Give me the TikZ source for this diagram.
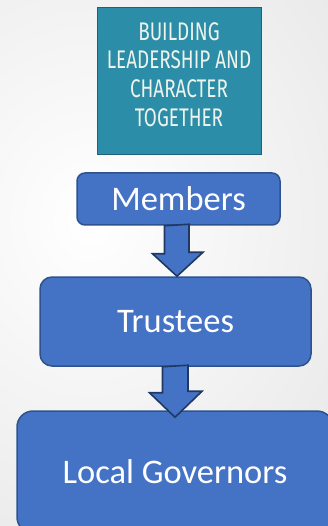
\documentclass[tikz,border=0pt]{standalone}
\usepackage{fontspec}
\setmainfont{Carlito}
\newfontfamily\tealfont[FakeStretch=0.74]{Fira Sans}
\usetikzlibrary{calc}
\definecolor{boxblue}{HTML}{4472C4}
\definecolor{boxedge}{HTML}{2F528F}
\definecolor{arrowedge}{HTML}{203864}
\definecolor{tealfill}{HTML}{2B8DA8}
\definecolor{tealedge}{HTML}{1F5F80}
\definecolor{cream}{HTML}{EEF3EC}
\tikzset{
  bluebox/.style={draw=boxedge, line width=1.5pt, fill=boxblue, text=white,
    font=\fontsize{34.5}{40}\selectfont, inner sep=0pt},
  barrow/.style={draw=arrowedge, line width=1.6pt, fill=boxblue, line join=miter},
}
\begin{document}
\begin{tikzpicture}[x=1pt,y=-1pt]
\clip (0,0) rectangle (328,526);
\shade[inner color=white, outer color=black!14] (-430,-380) rectangle (610,820);
% logo
\node[draw=tealedge, line width=0.8pt, fill=tealfill, minimum width=164pt, minimum height=147pt, inner sep=0pt] (logo) at (179,80.5) {};
\node[text=cream, font=\tealfont\fontsize{25.5}{28.7}\selectfont, align=center, inner sep=0pt] (logotext) at (179,74.5) {BUILDING\\LEADERSHIP AND\\CHARACTER\\TOGETHER};
% boxes
\node[bluebox, rounded corners=8pt, minimum width=203pt, minimum height=52pt] (members) at (178.5,199) {Members};
\node[bluebox, rounded corners=12pt, minimum width=271pt, minimum height=89pt] (trustees) at (175.5,321.5) {Trustees};
\node[bluebox, rounded corners=16pt, minimum width=316pt, minimum height=122pt] (lg) at (175,472) {Local Governors};
% arrows
\draw[barrow] ($(members.south)+(-14,0)$) -- ++(0,28) -- ++(-12,0) -- ($(trustees.north)+(1.5,0)$) -- ++(26,-24) -- ++(-14,0) -- ++(0,-28) -- cycle;
\draw[barrow] ($(trustees.south)+(-13,0)$) -- ++(0,26) -- ++(-13,0) -- ($(lg.north)+(0,7)$) -- ++(27,-26) -- ++(-14,0) -- ++(0,-26) -- cycle;
\end{tikzpicture}
\end{document}
